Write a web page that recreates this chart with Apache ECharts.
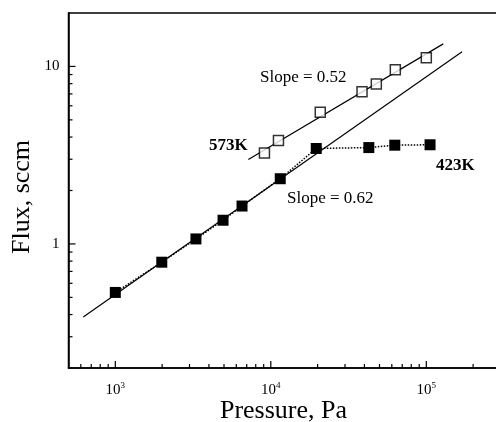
<!DOCTYPE html>
<html>
<head>
<meta charset="utf-8">
<script src="https://cdn.jsdelivr.net/npm/echarts@6/dist/echarts.min.js"></script>
<style>
html, body { margin: 0; padding: 0; background: #fff; }
#main { width: 496px; height: 422px; }
</style>
</head>
<body>
<div id="main"></div>
<script>
// data
var pressure573 = [9100, 11200, 20800, 38600, 47700, 63200, 100000];
var flux573 = [3.25, 3.83, 5.52, 7.21, 7.96, 9.58, 11.2];
var pressure423 = [1000, 1990, 3300, 4930, 6530, 11500, 19600, 42700, 62700, 105700];
var flux423 = [0.533, 0.789, 1.067, 1.36, 1.635, 2.33, 3.45, 3.49, 3.60, 3.62];
// fitted lines (end points)
var fit573 = [[7170, 2.99], [128500, 13.4]];
var fit423 = [[622, 0.388], [169800, 12.1]];
// ticks
var xMajorTicks = [1000, 10000, 100000];
var xMinorTicks = [600, 700, 800, 900,
    2000, 3000, 4000, 5000, 6000, 7000, 8000, 9000,
    20000, 30000, 40000, 50000, 60000, 70000, 80000, 90000,
    200000];
var yMajorTicks = [1, 10];
var yMinorTicks = [0.3, 0.4, 0.5, 0.6, 0.7, 0.8, 0.9, 2, 3, 4, 5, 6, 7, 8, 9];

var X_MIN = 500, X_MAX = 300000, Y_MIN = 0.2, Y_MAX = 20;
var SERIF = '"Liberation Serif", "Times New Roman", serif';

function zip(xs, ys) {
    var out = [];
    for (var i = 0; i < xs.length; i++) out.push([xs[i], ys[i]]);
    return out;
}

function isDecade(v) {
    var l = Math.log(v) / Math.LN10;
    return Math.abs(l - Math.round(l)) < 1e-6;
}

// tick marks drawn inward, placed through the axes
function tickSeries(values, onX, len) {
    return {
        type: 'custom',
        silent: true,
        clip: false,
        z: 5,
        data: values.map(function (v) { return onX ? [v, Y_MIN] : [X_MIN, v]; }),
        renderItem: function (params, api) {
            var p = api.coord([api.value(0), api.value(1)]);
            return {
                type: 'line',
                shape: onX
                    ? { x1: p[0], y1: p[1], x2: p[0], y2: p[1] - len }
                    : { x1: p[0], y1: p[1], x2: p[0] + len, y2: p[1] },
                style: { stroke: '#000', lineWidth: 1.2 }
            };
        }
    };
}

var chart = echarts.init(document.getElementById('main'));

var option = {
    animation: false,
    backgroundColor: '#fff',
    grid: {
        left: 68.5, top: 13, width: 432, bottom: 54,
        containLabel: false, outerBoundsMode: 'none',
        show: true, borderColor: '#000', borderWidth: 1.5
    },
    xAxis: {
        type: 'log', logBase: 10, min: X_MIN, max: X_MAX,
        axisLine: { lineStyle: { color: '#000', width: 1.5 } },
        axisTick: { show: false },
        splitLine: { show: false },
        axisLabel: {
            margin: 13,
            color: '#000',
            fontFamily: SERIF,
            formatter: function (v) {
                if (!isDecade(v)) return '';
                return '{b|10}{s|' + Math.round(Math.log(v) / Math.LN10) + '}';
            },
            rich: {
                b: { fontSize: 15, fontFamily: SERIF, color: '#000', lineHeight: 18 },
                s: { fontSize: 9, fontFamily: SERIF, color: '#000', verticalAlign: 'top', lineHeight: 18 }
            }
        }
    },
    yAxis: {
        type: 'log', logBase: 10, min: Y_MIN, max: Y_MAX,
        axisLine: { lineStyle: { color: '#000', width: 1.5 } },
        axisTick: { show: false },
        splitLine: { show: false },
        axisLabel: {
            margin: 9,
            color: '#000',
            fontSize: 15,
            fontFamily: SERIF,
            formatter: function (v) {
                return isDecade(v) ? String(Math.round(v)) : '';
            }
        }
    },
    graphic: [
        { type: 'text', x: 260, y: 78, style: { text: 'Slope = 0.52', font: '17px ' + SERIF, fill: '#000', textVerticalAlign: 'middle' } },
        { type: 'text', x: 287, y: 199, style: { text: 'Slope = 0.62', font: '17px ' + SERIF, fill: '#000', textVerticalAlign: 'middle' } },
        { type: 'text', x: 209, y: 146, style: { text: '573K', font: 'bold 17px ' + SERIF, fill: '#000', textVerticalAlign: 'middle' } },
        { type: 'text', x: 436, y: 166, style: { text: '423K', font: 'bold 17px ' + SERIF, fill: '#000', textVerticalAlign: 'middle' } },
        { type: 'text', x: 283.5, y: 411, style: { text: 'Pressure, Pa', font: '26px ' + SERIF, fill: '#000', textAlign: 'center', textVerticalAlign: 'middle' } },
        { type: 'text', x: 22, y: 197, rotation: Math.PI / 2, style: { text: 'Flux, sccm', font: '26px ' + SERIF, fill: '#000', textAlign: 'center', textVerticalAlign: 'middle' } }
    ],
    series: [
        tickSeries(xMajorTicks, true, 7),
        tickSeries(xMinorTicks, true, 4),
        tickSeries(yMajorTicks, false, 7),
        tickSeries(yMinorTicks, false, 4),
        {
            name: 'fit 423K', type: 'line', silent: true,
            data: fit423, showSymbol: false, symbol: 'none',
            lineStyle: { color: '#000', width: 1.2 }
        },
        {
            name: 'fit 573K', type: 'line', silent: true,
            data: fit573, showSymbol: false, symbol: 'none',
            lineStyle: { color: '#000', width: 1.2 }
        },
        {
            name: '423K', type: 'line',
            data: zip(pressure423, flux423),
            symbol: 'rect', symbolSize: 11,
            itemStyle: { color: '#000' },
            lineStyle: { color: '#000', width: 1.5, type: 'dotted' },
            z: 3
        },
        {
            name: '573K', type: 'scatter',
            data: zip(pressure573, flux573),
            symbol: 'rect', symbolSize: 10,
            itemStyle: { color: '#fff', borderColor: '#000', borderWidth: 1.5 },
            z: 4
        }
    ]
};

chart.setOption(option);
</script>
</body>
</html>
